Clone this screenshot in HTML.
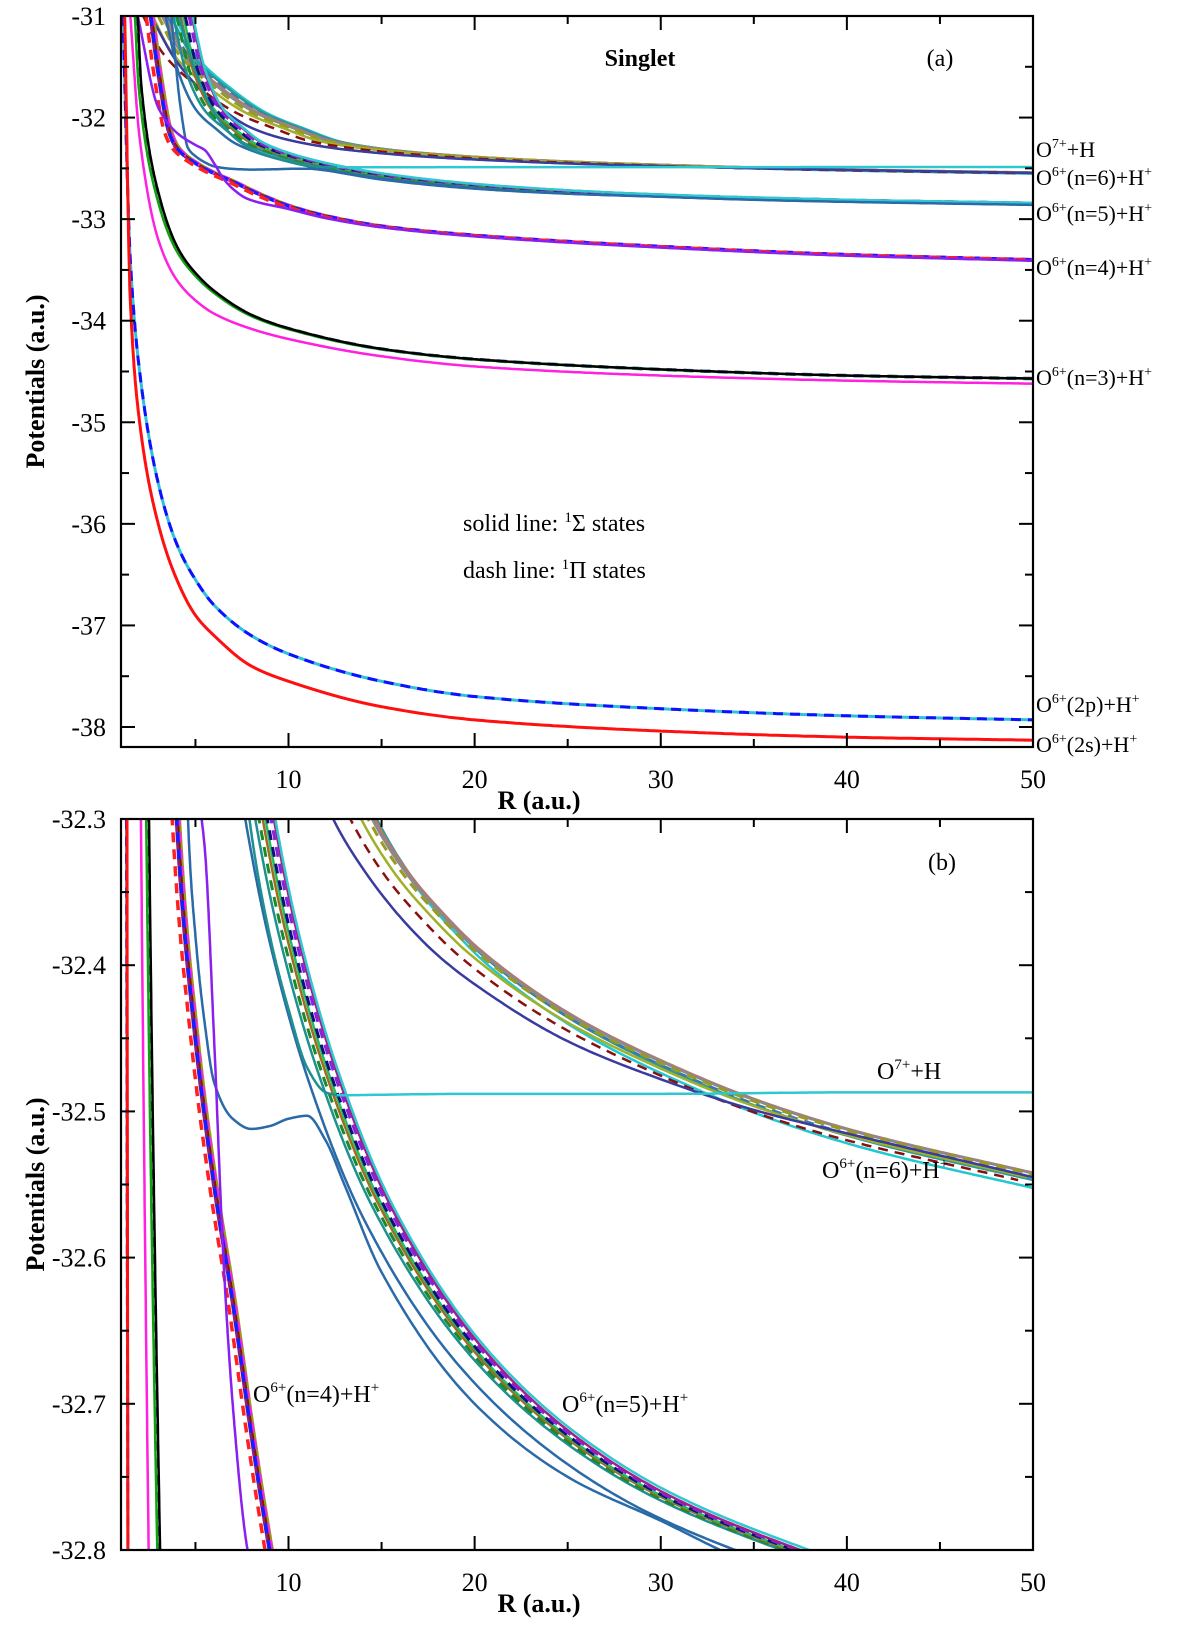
<!DOCTYPE html>
<html><head><meta charset="utf-8"><style>
html,body{margin:0;padding:0;background:#fff;overflow:hidden;width:1200px;height:1632px;}
svg{display:block;font-family:"Liberation Serif",serif;}
</style></head><body>
<svg id="chart" width="1200" height="1632" viewBox="0 0 1200 1632" xmlns="http://www.w3.org/2000/svg">
<defs>
<clipPath id="clipA"><rect x="121" y="16" width="912" height="731"/></clipPath>
<clipPath id="clipB"><rect x="121" y="819" width="912" height="731"/></clipPath>
</defs>
<g id="plotA"></g>
<g id="plotB"></g>
<g font-size="24">
<text x="640" y="66" text-anchor="middle" font-weight="bold">Singlet</text>
<text x="940" y="66" text-anchor="middle">(a)</text>
<text x="463" y="531">solid line: <tspan dy="-9" font-size="15">1</tspan><tspan dy="9">Σ states</tspan></text>
<text x="463" y="578">dash line: <tspan dy="-9" font-size="15">1</tspan><tspan dy="9">Π states</tspan></text>
</g>
<g font-size="22">
<text x="1036" y="157">O<tspan dy="-9" font-size="14">7+</tspan><tspan dy="9">+H</tspan></text>
<text x="1036" y="185">O<tspan dy="-9" font-size="14">6+</tspan><tspan dy="9">(n=6)+H</tspan><tspan dy="-9" font-size="14">+</tspan></text>
<text x="1036" y="221">O<tspan dy="-9" font-size="14">6+</tspan><tspan dy="9">(n=5)+H</tspan><tspan dy="-9" font-size="14">+</tspan></text>
<text x="1036" y="275">O<tspan dy="-9" font-size="14">6+</tspan><tspan dy="9">(n=4)+H</tspan><tspan dy="-9" font-size="14">+</tspan></text>
<text x="1036" y="385">O<tspan dy="-9" font-size="14">6+</tspan><tspan dy="9">(n=3)+H</tspan><tspan dy="-9" font-size="14">+</tspan></text>
<text x="1036" y="712">O<tspan dy="-9" font-size="14">6+</tspan><tspan dy="9">(2p)+H</tspan><tspan dy="-9" font-size="14">+</tspan></text>
<text x="1036" y="752">O<tspan dy="-9" font-size="14">6+</tspan><tspan dy="9">(2s)+H</tspan><tspan dy="-9" font-size="14">+</tspan></text>
</g>
<g font-size="24">
<text x="942" y="870" text-anchor="middle">(b)</text>
<text x="877" y="1079">O<tspan dy="-10" font-size="15">7+</tspan><tspan dy="10">+H</tspan></text>
<text x="822" y="1178">O<tspan dy="-10" font-size="15">6+</tspan><tspan dy="10">(n=6)+H</tspan><tspan dy="-10" font-size="15">+</tspan></text>
<text x="253" y="1402">O<tspan dy="-10" font-size="15">6+</tspan><tspan dy="10">(n=4)+H</tspan><tspan dy="-10" font-size="15">+</tspan></text>
<text x="562" y="1412">O<tspan dy="-10" font-size="15">6+</tspan><tspan dy="10">(n=5)+H</tspan><tspan dy="-10" font-size="15">+</tspan></text>
</g>
</svg>
<script>
// ---- data: sampled potential curves (R in a.u., V in a.u.) ----
const xTicks = [10, 20, 30, 40, 50];
const yTicksA = [-31, -32, -33, -34, -35, -36, -37, -38];
const yTicksB = [-32.3, -32.4, -32.5, -32.6, -32.7, -32.8];

const R_2s = [1.2, 1.5, 2, 3, 4, 5, 6, 8, 10, 15, 20, 30, 40, 50];
const V_2s = [-31, -33.8, -35.0, -36.0, -36.55, -36.9, -37.1, -37.4, -37.55, -37.8, -37.93, -38.04, -38.1, -38.13];
const R_2p = [1.1, 1.5, 2, 3, 4, 5, 6, 8, 10, 15, 20, 30, 40, 50];
const V_2p = [-31, -33.4, -34.5, -35.6, -36.2, -36.55, -36.8, -37.1, -37.28, -37.55, -37.7, -37.82, -37.89, -37.93];
const R_n3 = [1.8, 2, 3, 4, 5, 6, 8, 10, 15, 20, 30, 40, 50];
const V_n3 = [-31, -31.7, -32.8, -33.3, -33.55, -33.72, -33.95, -34.08, -34.28, -34.38, -34.48, -34.54, -34.57];
const R_n3m = [1.5, 2, 3, 4, 5, 6, 8, 10, 15, 20, 30, 40, 50];
const V_n3m = [-31, -32.2, -33.2, -33.6, -33.8, -33.93, -34.08, -34.18, -34.35, -34.45, -34.54, -34.59, -34.62];
const R_n4 = [2.6, 3, 3.6, 4, 5, 6, 7, 8, 8.6, 10, 12, 15, 20, 30, 40, 50];
const V_n4 = [-31, -31.55, -32.15, -32.3, -32.45, -32.55, -32.63, -32.72, -32.77, -32.87, -32.97, -33.07, -33.16, -33.27, -33.35, -33.4];
const R_n4p = [1.9, 3, 4, 5, 5.5, 6, 6.5, 7, 7.8, 10, 12, 15, 20, 30, 40, 50];
const V_n4p = [-31, -31.9, -32.15, -32.27, -32.32, -32.45, -32.6, -32.7, -32.8, -32.9, -32.99, -33.08, -33.17, -33.28, -33.36, -33.41];
const R_n5 = [4.3, 5, 6, 7, 8, 9, 10, 12, 15, 20, 25, 30, 37, 40, 50];
const V_n5 = [-31, -31.55, -31.93, -32.1, -32.24, -32.32, -32.38, -32.47, -32.565, -32.663, -32.723, -32.763, -32.8, -32.813, -32.843];
const R_plat = [3.7, 4.2, 4.6, 5, 5.5, 6, 7, 8, 9, 10, 11, 12, 13, 15, 20, 25, 30, 35, 40, 50];
const V_plat = [-31, -31.9, -32.3, -32.38, -32.44, -32.48, -32.505, -32.512, -32.51, -32.505, -32.503, -32.52, -32.55, -32.61, -32.7, -32.75, -32.78, -32.81, -32.83, -32.86];
const R_teal = [4.1, 5, 6, 7, 7.9, 9, 10, 11, 12, 12.6];
const V_teal = [-31, -31.55, -31.95, -32.18, -32.3, -32.38, -32.43, -32.47, -32.487, -32.489];
const R_flat = [12.6, 20, 30, 40, 50];
const V_flat = [-32.489, -32.488, -32.488, -32.487, -32.487];
const R_n6 = [3, 4, 6, 8, 10, 12, 14, 16, 18, 20, 25, 30, 35, 40, 50];
const V_n6 = [-31, -31.35, -31.7, -31.95, -32.1, -32.23, -32.293, -32.335, -32.365, -32.39, -32.435, -32.467, -32.493, -32.513, -32.543];
const R_n6n = [2.6, 4, 6, 8, 10, 12.4, 14, 16, 18, 20, 25, 30, 35, 40, 50];
const V_n6n = [-31, -31.45, -31.85, -32.1, -32.22, -32.3, -32.334, -32.367, -32.393, -32.413, -32.452, -32.478, -32.499, -32.515, -32.545];

// series: [name, R array, V array, color, width, dash, rShift, vOffset]
const seriesList = [
 ['n6-cyan', R_n6, V_n6, '#22c8d0', 2.5, '', 0.9, -0.012],
 ['n6-teal', R_n6, V_n6, '#2a9a9a', 2.5, '', 0.7, -0.006],
 ['n6-steel-dash', R_n6, V_n6, '#3a78b0', 2.5, '10,7', 0.5, -0.004],
 ['n6-rosy', R_n6, V_n6, '#b07a70', 2.5, '', 0.35, 0.0],
 ['n6-gray', R_n6, V_n6, '#8a8a8a', 2.5, '', 0.2, 0.0],
 ['n6-olive-dash', R_n6, V_n6, '#9a9a20', 3, '10,7', 0.0, 0.0],
 ['n6-olive', R_n6, V_n6, '#a0b028', 2.5, '', -0.3, -0.002],
 ['n6-darkred-dash', R_n6, V_n6, '#8a1010', 2.5, '10,7', -0.8, -0.004],
 ['n6-navy', R_n6n, V_n6n, '#3a3aa0', 2.5, '', 0, 0],
 ['n5-steel', R_n5, V_n5, '#2a6aa8', 2.5, '', -0.9, -0.01],
 ['n5-teal', R_n5, V_n5, '#1f9090', 2.5, '', -0.5, 0],
 ['n5-green-dash', R_n5, V_n5, '#1a8a2a', 3, '10,7', -0.3, 0],
 ['n5-brown', R_n5, V_n5, '#a06a20', 2.5, '', -0.1, 0],
 ['n5-green', R_n5, V_n5, '#20c060', 2.5, '', 0.05, 0],
 ['n5-navy-dash', R_n5, V_n5, '#10107a', 3, '10,7', 0.15, 0],
 ['n5-purple-dash', R_n5, V_n5, '#8a20e0', 3, '10,7', 0.35, 0],
 ['n5-magenta', R_n5, V_n5, '#a0208a', 2.5, '', 0.5, 0],
 ['n5-cyan', R_n5, V_n5, '#30c8d0', 2.5, '', 0.55, 0.002],
 ['teal-join', R_teal, V_teal, '#1f9090', 2.5, '', 0, 0],
 ['o7-h-flat', R_flat, V_flat, '#30c8d0', 2.5, '', 0, 0],
 ['plateau-steel', R_plat, V_plat, '#2a6aa8', 2.5, '', 0, 0],
 ['n4-olive', R_n4, V_n4, '#9a9a20', 3, '', 0.15, 0],
 ['n4-darkred', R_n4, V_n4, '#8a1010', 2.5, '', 0.05, 0],
 ['n4-purple2', R_n4, V_n4, '#8a2080', 2.5, '', -0.05, 0],
 ['n4-magenta-dash', R_n4, V_n4, '#ff20e0', 3.5, '10,7', 0.1, 0],
 ['n4-blue-dash', R_n4, V_n4, '#1020ff', 3.5, '10,7', 0.0, 0],
 ['n4-red-dash', R_n4, V_n4, '#ff2020', 3.5, '10,7', -0.25, 0],
 ['n4-purple', R_n4p, V_n4p, '#8a20f0', 2.5, '', 0, 0],
 ['n3-navy-dash', R_n3, V_n3, '#3a6aa0', 3.5, '10,7', 0.05, 0],
 ['n3-green', R_n3, V_n3, '#10a010', 2.5, '', -0.05, 0],
 ['n3-black', R_n3, V_n3, '#000000', 2.5, '', 0.1, 0],
 ['n3-magenta', R_n3m, V_n3m, '#ff20e0', 2.5, '', 0, 0],
 ['2p-cyan', R_2p, V_2p, '#30c0d8', 3, '', 0, 0],
 ['2p-blue-dash', R_2p, V_2p, '#1010ff', 3, '10,7', 0, 0],
 ['2s-red', R_2s, V_2s, '#ff1010', 3, '', 0, 0]
];

const NS = 'http://www.w3.org/2000/svg';
const X0 = 121, X1 = 1033, RMIN = 1, RMAX = 50;
function xs(r){ return X0 + (r - RMIN) / (RMAX - RMIN) * (X1 - X0); }
function mk(tag, attrs){ const e = document.createElementNS(NS, tag); for (const k in attrs) e.setAttribute(k, attrs[k]); return e; }
function monotone(xsArr, ysArr){
  const n = xsArr.length, d = [], m = new Array(n);
  for (let i = 0; i < n - 1; i++) d.push((ysArr[i+1]-ysArr[i])/(xsArr[i+1]-xsArr[i]));
  m[0] = d[0]; m[n-1] = d[n-2];
  for (let i = 1; i < n - 1; i++){
    if (d[i-1]*d[i] <= 0) m[i] = 0;
    else { const w1 = 2*(xsArr[i+1]-xsArr[i]) + (xsArr[i]-xsArr[i-1]), w2 = (xsArr[i+1]-xsArr[i]) + 2*(xsArr[i]-xsArr[i-1]);
      m[i] = (w1 + w2) / (w1/d[i-1] + w2/d[i]); }
  }
  return function(x){
    let i = 0; while (i < n - 2 && x > xsArr[i+1]) i++;
    const h = xsArr[i+1]-xsArr[i], t = (x - xsArr[i]) / h;
    const h00 = 2*t*t*t - 3*t*t + 1, h10 = t*t*t - 2*t*t + t, h01 = -2*t*t*t + 3*t*t, h11 = t*t*t - t*t;
    return h00*ysArr[i] + h10*h*m[i] + h01*ysArr[i+1] + h11*h*m[i+1];
  };
}
function panel(gid, top, bottom, vmax, vmin, yTicks, yMinorStep, clip, fmt, panelKey){
  const g = document.getElementById(gid);
  const ys = v => top + (vmax - v) / (vmax - vmin) * (bottom - top);
  const cg = mk('g', {'clip-path': 'url(#' + clip + ')'});
  
  
  g.appendChild(cg);
  seriesList.forEach(s => {
    const rr = s[1].map(r => r + s[6]);
    const f = monotone(rr, s[2]);
    const pts = [];
    const r0 = rr[0], r1 = rr[rr.length - 1];
    const pushPt = (r, v) => { const y = Math.max(top - 30, Math.min(bottom + 30, ys(v))); pts.push([xs(r), y]); };
    for (let r = r0; r < r1; r += (r < 15 ? 0.01 : 0.2)) pushPt(r, f(r) + s[7]);
    pushPt(r1, s[2][s[2].length-1] + s[7]);
    const d = 'M' + pts.map(p => p[0].toFixed(1) + ',' + p[1].toFixed(1)).join('L');
    const p = mk('path', {d: d, fill: 'none', stroke: s[3], 'stroke-width': s[4], 'stroke-linejoin': 'round'});
    if (s[5]) p.setAttribute('stroke-dasharray', s[5]);
    
    
    cg.appendChild(p);
  });
  const frame = mk('rect', {x: X0, y: top, width: X1 - X0, height: bottom - top, fill: 'none', stroke: '#000', 'stroke-width': 2.2});
  
  
  g.appendChild(frame);
  for (let r = 5; r <= 50; r += 5){
    const major = r % 10 === 0, L = major ? 14 : 8, x = xs(r);
    const t1 = mk('line', {x1: x, x2: x, y1: bottom, y2: bottom - L, stroke: '#000', 'stroke-width': 2});
    
    
    g.appendChild(t1);
    const t2 = mk('line', {x1: x, x2: x, y1: top, y2: top + L, stroke: '#000', 'stroke-width': 2});
    
    
    g.appendChild(t2);
  }
  xTicks.forEach(r => {
    const t = mk('text', {x: xs(r), y: bottom + 41, 'text-anchor': 'middle', 'font-size': 26});
    t.textContent = r;
    
    
    g.appendChild(t);
  });
  const n = Math.round((vmax - vmin) / yMinorStep);
  for (let i = 0; i <= n; i++){
    const v = vmax - i * yMinorStep, y = ys(v);
    if (y > bottom + 0.5) continue;
    const major = i % 2 === 0, L = major ? 14 : 8;
    const a = mk('line', {x1: X0, x2: X0 + L, y1: y, y2: y, stroke: '#000', 'stroke-width': 2});
    
    
    g.appendChild(a);
    const b = mk('line', {x1: X1, x2: X1 - L, y1: y, y2: y, stroke: '#000', 'stroke-width': 2});
    
    
    g.appendChild(b);
  }
  yTicks.forEach(v => {
    const t = mk('text', {x: 106, y: ys(v) + 9, 'text-anchor': 'end', 'font-size': 26});
    t.textContent = fmt(v);
    
    
    g.appendChild(t);
  });
  const xt = mk('text', {x: 539, y: bottom + 62, 'text-anchor': 'middle', 'font-size': 26, 'font-weight': 'bold'});
  xt.textContent = 'R (a.u.)';
  
  
  g.appendChild(xt);
  const cy = (top + bottom) / 2;
  const yt = mk('text', {x: 44, y: cy, 'text-anchor': 'middle', 'font-size': 26, 'font-weight': 'bold', transform: 'rotate(-90 44 ' + cy + ')'});
  yt.textContent = 'Potentials (a.u.)';
  
  
  g.appendChild(yt);
}
panel('plotA', 16, 747, -31, -38.197, yTicksA, 0.5, 'clipA', v => String(v), 'panel-a');
panel('plotB', 819, 1550, -32.3, -32.8, yTicksB, 0.05, 'clipB', v => v.toFixed(1), 'panel-b');
</script>
</body></html>
